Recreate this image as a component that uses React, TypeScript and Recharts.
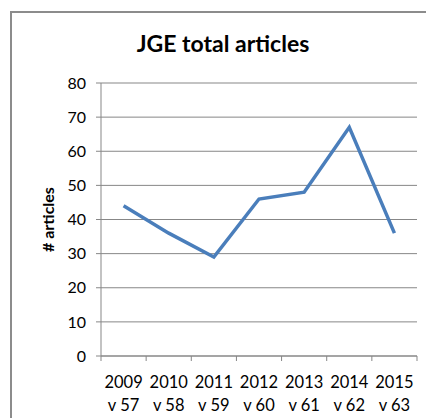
import React from 'react';
import { LineChart, Line, XAxis, YAxis, CartesianGrid } from 'recharts';

const years = ['2009', '2010', '2011', '2012', '2013', '2014', '2015'];
const volumes = ['v 57', 'v 58', 'v 59', 'v 60', 'v 61', 'v 62', 'v 63'];
const articles = [44, 36, 29, 46, 48, 67, 36];
const yTicks = [0, 10, 20, 30, 40, 50, 60, 70, 80];
const boundaryTicks = [0, 1, 2, 3, 4, 5, 6, 7];

const data = years.map((y, i) => ({ year: y, vol: volumes[i], pos: i + 0.5, articles: articles[i] }));

const FONT = 'Lato, "Open Sans", sans-serif';
const GRAY = '#878787';

const XTick = (props: any) => {
  const { x, y, index } = props;
  return (
    <text x={x} y={y} textAnchor="middle" fontFamily={FONT} fontSize={16.5} fill="#000">
      <tspan x={x} dy={31}>{years[index]}</tspan>
      <tspan x={x} dy={23}>{volumes[index]}</tspan>
    </text>
  );
};

const EmptyTick = () => <g />;

const YLabel = (props: any) => {
  const vb = props.viewBox || {};
  const cx = vb.x + 47;
  const cy = vb.y + vb.height / 2;
  return (
    <text x={cx} y={cy} textAnchor="middle" dominantBaseline="central" transform={`rotate(-90, ${cx}, ${cy})`} fontFamily={FONT} fontWeight="bold" fontSize={16} fill="#000">
      # articles
    </text>
  );
};

export default function App() {
  return (
    <div style={{ position: 'fixed', left: 0, top: 0, width: 426, height: 418, overflow: 'hidden', background: '#fff' }}>
      <div style={{ position: 'absolute', left: 10, top: 11, width: 600, height: 600, border: '2px solid #8c8c8c', boxSizing: 'border-box' }} />
      <div style={{ position: 'absolute', left: 103, top: 29, width: 240, textAlign: 'center', fontFamily: FONT, fontWeight: 'bold', fontSize: 23, color: '#000', lineHeight: '28px' }}>
        JGE total articles
      </div>
      <div style={{ position: 'absolute', left: 0, top: 0 }}>
        <LineChart width={426} height={418} data={data} margin={{ top: 83, right: 9, left: 0, bottom: 0 }}>
          <CartesianGrid xAxisId="b" horizontal={true} vertical={false} stroke={GRAY} strokeWidth={1} />
          <XAxis xAxisId="b" type="number" dataKey="pos" domain={[0, 7]} ticks={boundaryTicks} tick={<EmptyTick />} axisLine={{ stroke: GRAY }} tickLine={{ stroke: GRAY }} tickSize={5} height={1} allowDataOverflow interval={0} />
          <XAxis xAxisId="c" dataKey="year" scale="band" tick={<XTick />} tickLine={false} tickSize={0} tickMargin={0} axisLine={false} height={61} interval={0} />
          <YAxis domain={[0, 80]} ticks={yTicks} width={101} tickSize={5} tickMargin={10} interval={0}
            axisLine={{ stroke: GRAY }} tickLine={{ stroke: GRAY }}
            tick={{ fontFamily: FONT, fontSize: 16, fill: '#000' }}
            label={<YLabel />} />
          <Line xAxisId="b" type="linear" dataKey="articles" stroke="#4A7EBB" strokeWidth={3.5} dot={false} isAnimationActive={false} />
        </LineChart>
      </div>
    </div>
  );
}
